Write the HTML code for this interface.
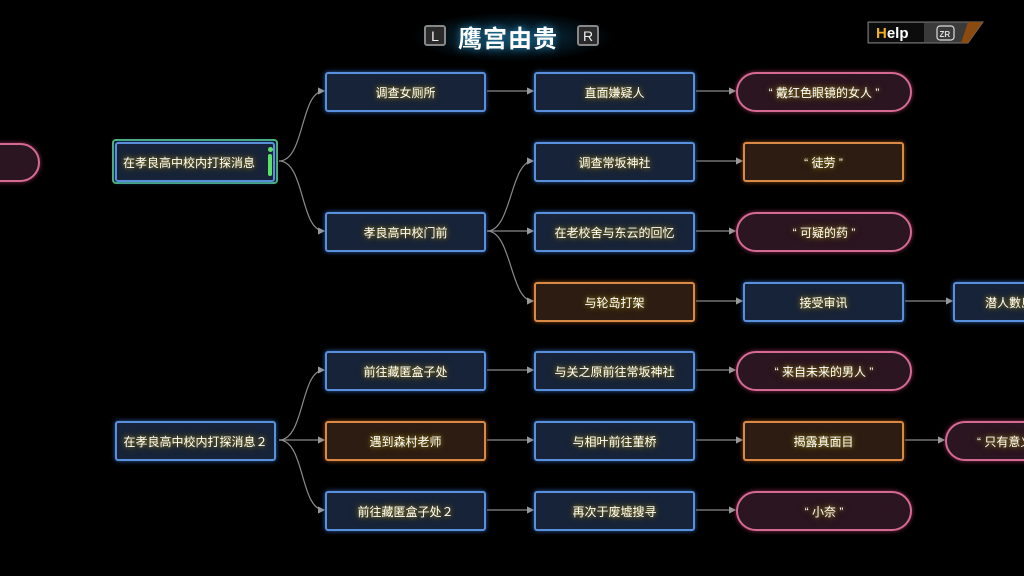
<!DOCTYPE html>
<html><head><meta charset="utf-8"><style>
body{margin:0;width:1024px;height:576px;background:#000;overflow:hidden;position:relative;font-family:"Liberation Sans","Noto Sans CJK SC",sans-serif}
.n{position:absolute;box-sizing:border-box;height:40px;display:flex;align-items:center;justify-content:center;color:#fff;font-size:12px;letter-spacing:0px;text-shadow:0 0 4px #a08a20,0 0 8px #6b5a10;white-space:nowrap}
.b{background:#172338;border:2px solid #5a8fdb;border-radius:3px;box-shadow:0 0 5px #2f5fa8}
.o{background:#2c1c12;border:2px solid #d98945;border-radius:3px;box-shadow:0 0 5px #8a4a18}
.p{background:#2a1520;border:2px solid #d46a92;border-radius:20px;box-shadow:0 0 5px #8a2f52}
svg{position:absolute;left:0;top:0}
</style></head><body>
<svg width="1024" height="576">
<defs><marker id="a" markerWidth="6" markerHeight="6" refX="5" refY="3" orient="auto"><path d="M0,0L6,3L0,6z" fill="#999"/></marker></defs>
<g stroke="#8a8a8a" stroke-width="1.2" fill="none" marker-end="url(#a)">
<path d="M279,161C305,161 300,91 324,91"/>
<path d="M279,161C305,161 300,231 324,231"/>
<path d="M487,91L533,91"/>
<path d="M487,231C512,231 510,161 533,161"/>
<path d="M487,231L533,231"/>
<path d="M487,231C512,231 510,301 533,301"/>
<path d="M696,91L735,91"/>
<path d="M696,161L742,161"/>
<path d="M696,231L735,231"/>
<path d="M696,301L742,301"/>
<path d="M905,301L952,301"/>
<path d="M279,440C305,440 300,370 324,370"/>
<path d="M279,440L324,440"/>
<path d="M279,440C305,440 300,510 324,510"/>
<path d="M487,370L533,370"/>
<path d="M487,440L533,440"/>
<path d="M487,510L533,510"/>
<path d="M696,370L735,370"/>
<path d="M696,440L742,440"/>
<path d="M696,510L735,510"/>
<path d="M905,440L944,440"/>
</g>
</svg>
<div class="n p" style="left:-40px;top:143px;width:80px;height:39px"></div>
<div style="position:absolute;left:112px;top:139px;width:166px;height:45px;border:2px solid #4fbe7a;border-radius:4px;box-sizing:border-box"></div>
<div class="n b" style="left:115px;top:142px;width:160px;padding-right:12px">在孝良高中校内打探消息</div>
<div style="position:absolute;left:268px;top:147px;width:5px;height:5px;border-radius:50%;background:#5de06a"></div>
<div style="position:absolute;left:268px;top:154px;width:4px;height:22px;border-radius:2px;background:#5de06a"></div>
<div class="n b" style="left:115px;top:421px;width:161px;">在孝良高中校内打探消息２</div>

<div class="n b" style="left:325px;top:72px;width:161px;">调查女厕所</div>
<div class="n b" style="left:325px;top:212px;width:161px;">孝良高中校门前</div>
<div class="n b" style="left:325px;top:351px;width:161px;">前往藏匿盒子处</div>
<div class="n o" style="left:325px;top:421px;width:161px;">遇到森村老师</div>
<div class="n b" style="left:325px;top:491px;width:161px;">前往藏匿盒子处２</div>

<div class="n b" style="left:534px;top:72px;width:161px;">直面嫌疑人</div>
<div class="n b" style="left:534px;top:142px;width:161px;">调查常坂神社</div>
<div class="n b" style="left:534px;top:212px;width:161px;">在老校舍与东云的回忆</div>
<div class="n o" style="left:534px;top:282px;width:161px;">与轮岛打架</div>
<div class="n b" style="left:534px;top:351px;width:161px;">与关之原前往常坂神社</div>
<div class="n b" style="left:534px;top:421px;width:161px;">与相叶前往董桥</div>
<div class="n b" style="left:534px;top:491px;width:161px;">再次于废墟搜寻</div>

<div class="n p" style="left:736px;top:72px;width:176px;">“ 戴红色眼镜的女人 ”</div>
<div class="n o" style="left:743px;top:142px;width:161px;">“ 徒劳 ”</div>
<div class="n p" style="left:736px;top:212px;width:176px;">“ 可疑的药 ”</div>
<div class="n b" style="left:743px;top:282px;width:161px;">接受审讯</div>
<div class="n p" style="left:736px;top:351px;width:176px;">“ 来自未来的男人 ”</div>
<div class="n o" style="left:743px;top:421px;width:161px;">揭露真面目</div>
<div class="n p" style="left:736px;top:491px;width:176px;">“ 小奈 ”</div>

<div class="n b" style="left:953px;top:282px;width:161px;justify-content:flex-start;padding-left:30px">潜人數島</div>
<div class="n p" style="left:945px;top:421px;width:176px;justify-content:flex-start;padding-left:30px">“ 只有意义 ”</div>

<div style="position:absolute;left:410px;top:12px;width:205px;height:50px;border-radius:25px;background:radial-gradient(ellipse at center,rgba(20,90,130,0.6),rgba(0,0,0,0) 70%)"></div>
<div style="position:absolute;left:424px;top:25px;width:22px;height:21px;box-sizing:border-box;border:2px solid #888;border-radius:3px;background:#2a2a2a;color:#eee;font-size:14px;display:flex;align-items:center;justify-content:center">L</div>
<div style="position:absolute;left:458px;top:19px;color:#fff;font-size:24px;font-weight:bold;text-shadow:0 0 8px #2a8ab8;letter-spacing:1px">鹰宫由贵</div>
<div style="position:absolute;left:577px;top:25px;width:22px;height:21px;box-sizing:border-box;border:2px solid #888;border-radius:3px;background:#2a2a2a;color:#eee;font-size:14px;display:flex;align-items:center;justify-content:center">R</div>

<svg width="1024" height="576" style="pointer-events:none">
<path d="M868,22H983L968,43H868Z" fill="#3a3a3a" stroke="#777" stroke-width="1"/>
<rect x="869" y="23" width="55" height="19" fill="#0c0c0c"/>
<path d="M968,22H983L968,43H961Z" fill="#8a4a10"/>
<text x="876" y="38" font-family="Liberation Sans" font-weight="bold" font-size="15" fill="#fff"><tspan fill="#f0b020">H</tspan>elp</text>
<rect x="937" y="26" width="17" height="14" rx="3" fill="none" stroke="#ddd" stroke-width="1.2"/>
<text x="939.5" y="37" font-family="Liberation Sans" font-weight="bold" font-size="8" fill="#ddd">ZR</text>
</svg>
</body></html>
